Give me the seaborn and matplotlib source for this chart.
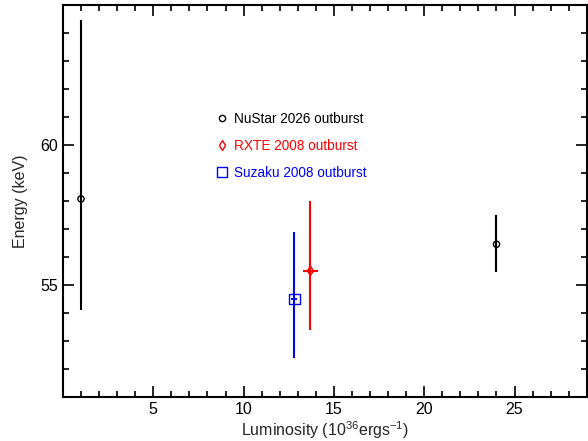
import numpy as np
import pandas as pd
import matplotlib
matplotlib.use("Agg")
import matplotlib.pyplot as plt
import seaborn as sns
from matplotlib.lines import Line2D
from matplotlib.ticker import MultipleLocator, FixedLocator

sns.set_theme(style="ticks")
plt.rcParams['font.family'] = ['Liberation Sans', 'DejaVu Sans']
plt.rcParams['mathtext.fontset'] = 'custom'
plt.rcParams['mathtext.rm'] = 'Liberation Sans'

# data
series = ["NuStar 2026 outburst", "NuStar 2026 outburst", "RXTE 2008 outburst", "Suzaku 2008 outburst"]
lum = [1.0, 24.0, 13.7, 12.8]
lum_err = [0.0, 0.0, 0.43, 0.15]
energy = [58.07, 56.45, 55.5, 54.5]
energy_lo = [3.97, 1.0, 2.1, 2.12]
energy_hi = [6.4, 1.05, 2.5, 2.4]
x_ticks = [5, 10, 15, 20, 25]
y_ticks = [55, 60]

colors = {"NuStar 2026 outburst": "black", "RXTE 2008 outburst": "red", "Suzaku 2008 outburst": "blue"}
markers = {"NuStar 2026 outburst": "o", "RXTE 2008 outburst": "d", "Suzaku 2008 outburst": "s"}
msizes = {"NuStar 2026 outburst": 20, "RXTE 2008 outburst": 25, "Suzaku 2008 outburst": 60}

df = pd.DataFrame({"series": series, "lum": lum, "lum_err": lum_err,
                   "energy": energy, "lo": energy_lo, "hi": energy_hi})

fig = plt.figure(figsize=(5.88, 4.41), dpi=100)
ax = fig.add_axes([0.107, 0.100, 0.891, 0.889])

for _, r in df.iterrows():
    c = colors[r.series]
    ax.errorbar(r.lum, r.energy, yerr=[[r.lo], [r.hi]],
                xerr=r.lum_err if r.lum_err > 0 else None,
                fmt="none", ecolor=c, elinewidth=1.5, capsize=0, zorder=2)

for name in ["NuStar 2026 outburst", "RXTE 2008 outburst", "Suzaku 2008 outburst"]:
    sub = df[df.series == name]
    sns.scatterplot(data=sub, x="lum", y="energy", ax=ax, marker=markers[name],
                    s=msizes[name], facecolor="none", edgecolor=colors[name],
                    linewidth=1.0, zorder=3, legend=False)

ax.set_xlim(0, 29)
ax.set_ylim(51, 65)
ax.xaxis.set_major_locator(FixedLocator(x_ticks))
ax.xaxis.set_minor_locator(MultipleLocator(1))
ax.yaxis.set_major_locator(FixedLocator(y_ticks))
ax.yaxis.set_minor_locator(MultipleLocator(1))
ax.tick_params(which="both", direction="in", top=True, right=True, colors="black", width=1.2)
ax.tick_params(which="major", length=8, labelsize=11.5)
ax.tick_params(which="minor", length=4)
for s in ax.spines.values():
    s.set_linewidth(1.5)
    s.set_color("black")

ax.set_xlabel("Luminosity (10$^{36}$ergs$^{\u22121}$)", fontsize=11.5, labelpad=2)
ax.set_ylabel("Energy (keV)", fontsize=11.5, labelpad=9)

handles = [Line2D([], [], ls="none", marker=markers[n], mfc="none", mec=colors[n],
                  ms={"NuStar 2026 outburst": 4.5, "RXTE 2008 outburst": 5, "Suzaku 2008 outburst": 7}[n], mew=1)
           for n in colors]
leg = ax.legend(handles, list(colors.keys()), loc="upper left", bbox_to_anchor=(0.285, 0.74),
                frameon=False, fontsize=9.8, handlelength=0.6, handletextpad=0.6,
                labelspacing=0.95, borderaxespad=0)
for t, n in zip(leg.get_texts(), colors):
    t.set_color(colors[n])

fig.savefig("out.png", dpi=100)
